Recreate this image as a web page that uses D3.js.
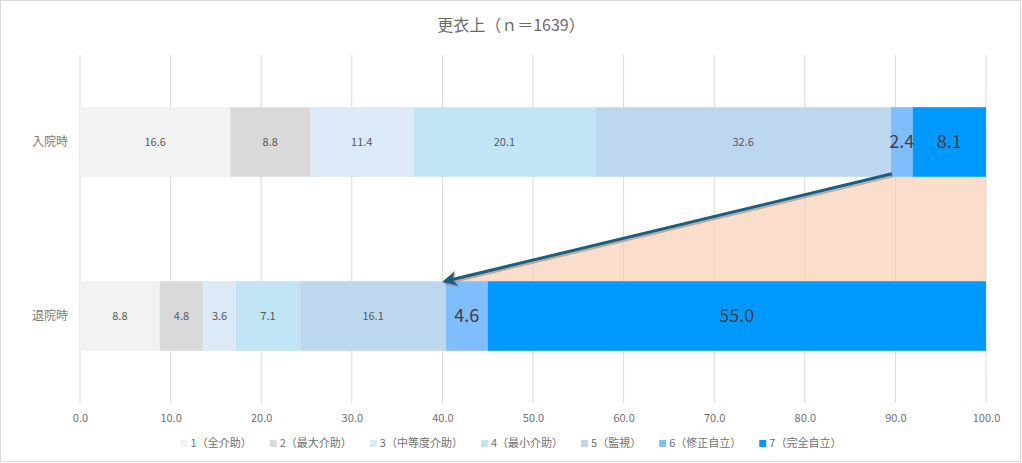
<!DOCTYPE html>
<html><head><meta charset="utf-8">
<script src="https://cdn.jsdelivr.net/npm/d3@7"></script>
<style>body{margin:0;background:#fff;} svg{display:block;}</style>
</head><body>
<svg id="chart" width="1022" height="463"></svg>
<script>
const title = "更衣上（ｎ＝1639）";
const categories = ["入院時", "退院時"];
const seriesNames = ["1（全介助）","2（最大介助）","3（中等度介助）","4（最小介助）","5（監視）","6（修正自立）","7（完全自立）"];
const admission = [16.6, 8.8, 11.4, 20.1, 32.6, 2.4, 8.1];
const discharge = [8.8, 4.8, 3.6, 7.1, 16.1, 4.6, 55.0];
const colors = ["#f2f2f2","#d9d9d9","#dce9f6","#c2e5f6","#bdd7ee","#7fbdfc","#0099ff"];
const xTicks = [0,10,20,30,40,50,60,70,80,90,100];
const bigLabelSeries = [5, 6];

(function(){
const font = "'Noto Sans CJK JP','Noto Sans',sans-serif";
const svg = d3.select("#chart");
svg.append("rect").attr("x",0.5).attr("y",0.5).attr("width",1020).attr("height",461)
  .attr("fill","#fff").attr("stroke","#d9d9d9");

const pL = 80, pR = 986, pT = 55, pB = 403;
const x = d3.scaleLinear().domain([0,100]).range([pL,pR]);
const y = d3.scaleBand().domain(categories).range([pT,pB]).paddingInner(0.6).paddingOuter(0.3);

svg.append("text").attr("x",511).attr("y",31).attr("text-anchor","middle")
  .attr("font-family",font).attr("font-size",16).attr("fill","#6b6b6b").text(title);

svg.append("g").selectAll("line").data(xTicks).join("line")
  .attr("x1",d=>x(d)).attr("x2",d=>x(d)).attr("y1",pT).attr("y2",pB)
  .attr("stroke","#d9d9d9").attr("stroke-width",1);

const xAxis = svg.append("g").attr("transform",`translate(0,${pB})`)
  .call(d3.axisBottom(x).tickValues(xTicks).tickFormat(d3.format(".1f")).tickSize(0).tickPadding(11));
xAxis.select(".domain").remove();
xAxis.selectAll("text").attr("font-family",font).attr("font-size",11).attr("fill","#6f6f6f");

const yAxis = svg.append("g").attr("transform",`translate(${pL},0)`)
  .call(d3.axisLeft(y).tickSize(0).tickPadding(12));
yAxis.select(".domain").remove();
yAxis.selectAll("text").attr("font-family",font).attr("font-size",12).attr("fill","#7a7a7a");

const rows = [admission, discharge];
const stacked = rows.map((vals,ri)=>{
  let cum = 0;
  return vals.map((v,si)=>{ const d={cat:categories[ri], si, v, x0:cum, x1:cum+v}; cum+=v; return d; });
});

const a6 = stacked[0][5], d6 = stacked[1][5];
const yTopBottom = y(categories[0]) + y.bandwidth();
const yBotTop = y(categories[1]);
svg.append("path")
  .attr("d", d3.line()([[x(a6.x0),yTopBottom],[x(100),yTopBottom],[x(100),yBotTop],[x(d6.x0),yBotTop]]) + "Z")
  .attr("fill","#f8cbad").attr("opacity",0.65);

const barG = svg.append("g");
stacked.forEach(row=>{
  barG.selectAll(null).data(row).join("rect")
    .attr("x",d=>x(d.x0)).attr("width",d=>x(d.x1)-x(d.x0))
    .attr("y",d=>y(d.cat)).attr("height",y.bandwidth())
    .attr("fill",d=>colors[d.si]);
  barG.selectAll(null).data(row).join("text")
    .attr("x",d=>(x(d.x0)+x(d.x1))/2)
    .attr("y",d=>y(d.cat)+y.bandwidth()/2)
    .attr("dy","0.35em").attr("text-anchor","middle")
    .attr("font-family",font)
    .attr("font-size",d=>bigLabelSeries.includes(d.si)?18:11)
    .attr("fill",d=>bigLabelSeries.includes(d.si)?"#404040":"#595959")
    .text(d=>d.v.toFixed(1));
});

const defs = svg.append("defs");
defs.append("marker").attr("id","ah").attr("viewBox","0 0 10 10").attr("refX",8).attr("refY",5)
  .attr("markerWidth",5).attr("markerHeight",5).attr("orient","auto-start-reverse")
  .append("path").attr("d","M0,0 L10,5 L0,10 L3,5 Z").attr("fill","#1b5f7e");
defs.append("marker").attr("id","ahs").attr("viewBox","0 0 10 10").attr("refX",8).attr("refY",5)
  .attr("markerWidth",5).attr("markerHeight",5).attr("orient","auto-start-reverse")
  .append("path").attr("d","M0,0 L10,5 L0,10 L3,5 Z").attr("fill","#8a8a8a").attr("opacity",0.6);
const ax1 = x(a6.x0)+1, ay1 = yTopBottom-3, ax2 = x(d6.x0)-1, ay2 = yBotTop;
svg.append("line").attr("x1",ax1+1).attr("y1",ay1+2).attr("x2",ax2+1).attr("y2",ay2+2)
  .attr("stroke","#8a8a8a").attr("stroke-opacity",0.6).attr("stroke-width",3).attr("marker-end","url(#ahs)");
svg.append("line").attr("x1",ax1).attr("y1",ay1).attr("x2",ax2).attr("y2",ay2)
  .attr("stroke","#1b5f7e").attr("stroke-width",3).attr("marker-end","url(#ah)");

const lg = svg.append("g");
let cx = 0;
seriesNames.forEach((n,i)=>{
  const g = lg.append("g");
  g.append("rect").attr("x",0).attr("y",-7).attr("width",7).attr("height",7).attr("fill",colors[i]);
  const t = g.append("text").attr("x",10).attr("y",0).attr("font-family",font).attr("font-size",11)
    .attr("fill","#6f6f6f").text(n);
  const w = 10 + t.node().getComputedTextLength();
  g.attr("transform",`translate(${cx},0)`);
  cx += w + 18;
});
const totalW = cx - 18;
lg.attr("transform",`translate(${511 - totalW/2},447)`);
})();
</script>
</body></html>
